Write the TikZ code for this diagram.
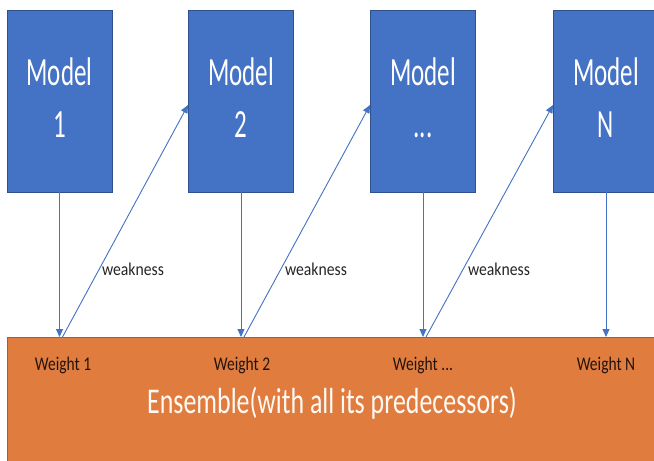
\documentclass[tikz,border=0pt]{standalone}
\usepackage{fontspec}
\setmainfont{Carlito}
\usetikzlibrary{arrows.meta}
\definecolor{boxblue}{HTML}{4472C4}
\definecolor{boxedge}{HTML}{2F528F}
\definecolor{ensorange}{HTML}{E07C3E}
\definecolor{wtext}{HTML}{24140C}
\newcommand{\mdl}[1]{\scalebox{1}[1.6]{\begin{tabular}{@{}c@{}}Model\\#1\end{tabular}}}
\tikzset{
  modelbox/.style={draw=boxedge, line width=0.9pt, fill=boxblue, text=white,
    minimum width=105pt, minimum height=182pt, inner sep=0pt,
    font=\fontsize{25}{33}\selectfont},
  ensbox/.style={draw=boxblue, line width=1pt, fill=ensorange,
    minimum width=660pt, minimum height=140pt, inner sep=0pt},
  flow/.style={draw=boxblue, line width=0.9pt, -{Triangle[length=8pt,width=7pt]}},
  weaklabel/.style={font=\fontsize{15.7}{18}\selectfont, text=black!85, inner sep=0pt, anchor=base},
  weightlabel/.style={font=\fontsize{15.5}{18}\selectfont, text=wtext, inner sep=0pt, anchor=base},
  enslabel/.style={font=\fontsize{25.9}{30}\selectfont, text=white!96!orange, inner sep=0pt, anchor=base}
}
\begin{document}
\begin{tikzpicture}[x=1pt,y=-1pt]
\useasboundingbox (0,0) rectangle (654,461);
\clip (0,0) rectangle (654,461);
\fill[white] (0,0) rectangle (654,461);
% ensemble bar
\node[ensbox, anchor=north west] (ens) at (7,337) {};
% model boxes
\node[modelbox] (m1) at (59.5,101) {\mdl{1}};
\node[modelbox] (m2) at (241,101) {\mdl{2}};
\node[modelbox] (m3) at (423,101) {\mdl{...}};
\node[modelbox] (m4) at (606,101) {\mdl{N}};
% weight attach points
\coordinate (w1) at (m1.south |- ens.north);
\coordinate (w2) at (m2.south |- ens.north);
\coordinate (w3) at (m3.south |- ens.north);
\coordinate (w4) at (m4.south |- ens.north);
% vertical arrows
\draw[flow] (m1.south) -- (w1);
\draw[flow] (m2.south) -- (w2);
\draw[flow] (m3.south) -- (w3);
\draw[flow] (m4.south) -- (w4);
% diagonal (weakness) arrows
\coordinate (d1) at ([xshift=3pt]w1);
\coordinate (d2) at ([xshift=3pt]w2);
\coordinate (d3) at ([xshift=3pt]w3);
\draw[flow] (d1) -- ([yshift=-4pt]m2.west);
\draw[flow] (d2) -- ([yshift=-4pt]m3.west);
\draw[flow] (d3) -- ([yshift=-4pt]m4.west);
% labels
\node[weaklabel] (k1) at (133,275) {\scalebox{1}[1.15]{weakness}};
\node[weaklabel] (k2) at (316,275) {\scalebox{1}[1.15]{weakness}};
\node[weaklabel] (k3) at (499,275) {\scalebox{1}[1.15]{weakness}};
\node[weightlabel] (t1) at (63,370) {\scalebox{1}[1.25]{Weight 1}};
\node[weightlabel] (t2) at (242,370) {\scalebox{1}[1.25]{Weight 2}};
\node[weightlabel] (t3) at (423,370) {\scalebox{1}[1.25]{Weight ...}};
\node[weightlabel] (t4) at (606,370) {\scalebox{1}[1.25]{Weight N}};
\node[enslabel] (el) at (332,413) {\scalebox{1}[1.4]{Ensemble(with all its predecessors)}};
\end{tikzpicture}
\end{document}
